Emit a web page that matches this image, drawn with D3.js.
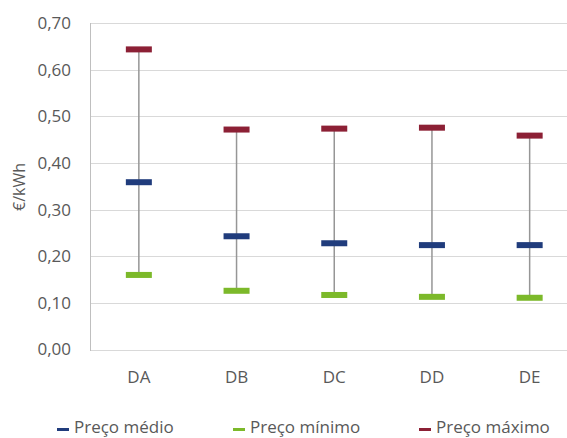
<!DOCTYPE html>
<html>
<head>
<meta charset="utf-8">
<script src="https://d3js.org/d3.v7.min.js"></script>
<style>
  body { margin: 0; background: #fff; }
  svg { display: block; font-family: "Open Sans", sans-serif; }
</style>
</head>
<body>
<div id="chart"></div>
<script>
// chart data
const categories = ["DA", "DB", "DC", "DD", "DE"];
const precoMedio = [0.359, 0.243, 0.228, 0.224, 0.224];
const precoMinimo = [0.160, 0.126, 0.117, 0.113, 0.111];
const precoMaximo = [0.644, 0.472, 0.474, 0.476, 0.459];
const yTicks = [0, 0.1, 0.2, 0.3, 0.4, 0.5, 0.6, 0.7];
const legendItems = [
    { name: "Preço médio", color: "#203c7c" },
    { name: "Preço mínimo", color: "#7cb92a" },
    { name: "Preço máximo", color: "#8c2035" }
];

const width = 567, height = 438;
const svg = d3.select("#chart").append("svg")
    .attr("width", width)
    .attr("height", height);

const x = d3.scaleBand()
    .domain(categories)
    .range([90, 578.5])
    .padding(0);

const y = d3.scaleLinear()
    .domain([0, 0.7])
    .range([349.5, 23.3]);

const fmt = v => d3.format(".2f")(v).replace(".", ",");

// gridlines
svg.append("g")
    .selectAll("line")
    .data(yTicks)
    .join("line")
    .attr("x1", 90)
    .attr("x2", 578)
    .attr("y1", d => Math.round(y(d)) + 0.5)
    .attr("y2", d => Math.round(y(d)) + 0.5)
    .attr("stroke", "#d9d9d9")
    .attr("stroke-width", 1);

// left axis line
svg.append("line")
    .attr("x1", 90.5).attr("x2", 90.5)
    .attr("y1", Math.round(y(0.7))).attr("y2", Math.round(y(0)) + 1)
    .attr("stroke", "#bfbfbf")
    .attr("stroke-width", 1);

// y tick labels
svg.append("g")
    .selectAll("text")
    .data(yTicks)
    .join("text")
    .attr("x", 71)
    .attr("y", d => y(d))
    .attr("dy", "0.35em")
    .attr("text-anchor", "end")
    .attr("font-size", 17)
    .attr("fill", "#595959")
    .text(fmt);

// y title
svg.append("text")
    .attr("transform", "translate(25,187) rotate(-90)")
    .attr("text-anchor", "middle")
    .attr("font-size", 16)
    .attr("fill", "#595959")
    .text("€/kWh");

// x labels
svg.append("g")
    .selectAll("text")
    .data(categories)
    .join("text")
    .attr("x", d => x(d) + x.bandwidth() / 2)
    .attr("y", 383)
    .attr("text-anchor", "middle")
    .attr("font-size", 17)
    .attr("fill", "#595959")
    .text(d => d);

const cx = i => x(categories[i]) + x.bandwidth() / 2;

// high-low lines
svg.append("g")
    .selectAll("line")
    .data(categories)
    .join("line")
    .attr("x1", (d, i) => cx(i))
    .attr("x2", (d, i) => cx(i))
    .attr("y1", (d, i) => y(precoMaximo[i]))
    .attr("y2", (d, i) => y(precoMinimo[i]))
    .attr("stroke", "#969696")
    .attr("stroke-width", 1.5);

// markers
const mw = 26, mh = 6;
function drawMarkers(values, color) {
    svg.append("g")
        .selectAll("rect")
        .data(values)
        .join("rect")
        .attr("x", (d, i) => cx(i) - mw / 2)
        .attr("y", d => y(d) - mh / 2)
        .attr("width", mw)
        .attr("height", mh)
        .attr("fill", color);
}
drawMarkers(precoMaximo, legendItems[2].color);
drawMarkers(precoMedio, legendItems[0].color);
drawMarkers(precoMinimo, legendItems[1].color);

// legend
const legendX = [57, 233, 419];
const lg = svg.append("g")
    .selectAll("g")
    .data(legendItems)
    .join("g")
    .attr("transform", (d, i) => `translate(${legendX[i]},427)`);
lg.append("rect")
    .attr("x", 0).attr("y", 1)
    .attr("width", 12).attr("height", 3)
    .attr("fill", d => d.color);
lg.append("text")
    .attr("x", 17)
    .attr("dy", "0.35em")
    .attr("font-size", 17)
    .attr("fill", "#595959")
    .text(d => d.name);
</script>
</body>
</html>
